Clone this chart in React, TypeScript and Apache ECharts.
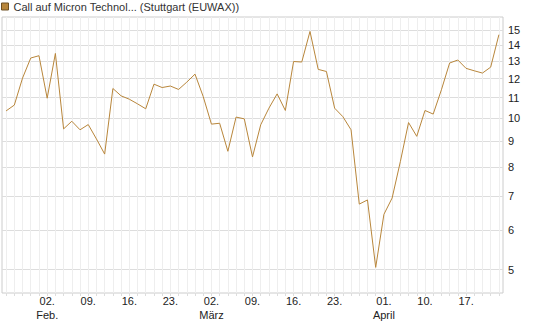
import React, { useEffect, useRef } from "react";
import * as echarts from "echarts";

const seriesName = "Call auf Micron Technol... (Stuttgart (EUWAX))";

const dates = [
  "2026-01-26", "2026-01-27", "2026-01-28", "2026-01-29", "2026-01-30",
  "2026-02-02", "2026-02-03", "2026-02-04", "2026-02-05", "2026-02-06",
  "2026-02-09", "2026-02-10", "2026-02-11", "2026-02-12", "2026-02-13",
  "2026-02-16", "2026-02-17", "2026-02-18", "2026-02-19", "2026-02-20",
  "2026-02-23", "2026-02-24", "2026-02-25", "2026-02-26", "2026-02-27",
  "2026-03-02", "2026-03-03", "2026-03-04", "2026-03-05", "2026-03-06",
  "2026-03-09", "2026-03-10", "2026-03-11", "2026-03-12", "2026-03-13",
  "2026-03-16", "2026-03-17", "2026-03-18", "2026-03-19", "2026-03-20",
  "2026-03-23", "2026-03-24", "2026-03-25", "2026-03-26", "2026-03-27",
  "2026-03-31", "2026-04-01", "2026-04-02", "2026-04-07", "2026-04-08",
  "2026-04-09", "2026-04-10", "2026-04-13", "2026-04-14", "2026-04-15",
  "2026-04-16", "2026-04-17", "2026-04-20", "2026-04-21", "2026-04-22",
  "2026-04-23",
];

const prices = [
  10.35, 10.63, 12.03, 13.19, 13.33,
  10.97, 13.47, 9.53, 9.87, 9.49,
  9.72, 9.10, 8.49, 11.47, 11.09,
  10.92, 10.69, 10.45, 11.70, 11.52,
  11.60, 11.42, 11.81, 12.25, 11.05,
  9.74, 9.78, 8.60, 10.06, 9.98,
  8.38, 9.71, 10.48, 11.19, 10.37,
  12.98, 12.95, 14.90, 12.52, 12.40,
  10.48, 10.08, 9.49, 6.75, 6.88,
  5.05, 6.44, 6.94, 8.20, 9.81,
  9.21, 10.37, 10.20, 11.40, 12.89,
  13.07, 12.58, 12.44, 12.31, 12.65,
  14.68,
];

const xTickLabels: Record<string, string> = {
  "2026-02-02": "02.\nFeb.",
  "2026-02-09": "09.",
  "2026-02-16": "16.",
  "2026-02-23": "23.",
  "2026-03-02": "02.\nMärz",
  "2026-03-09": "09.",
  "2026-03-16": "16.",
  "2026-03-23": "23.",
  "2026-04-01": "01.\nApril",
  "2026-04-10": "10.",
  "2026-04-17": "17.",
};

const yTicks = [5, 6, 7, 8, 9, 10, 11, 12, 13, 14, 15];
const yMin = 4.49;
const yMax = 15.92;

const FONT = 'Arial, "Liberation Sans", sans-serif';
const LINE_COLOR = "#b8863b";

export default function App() {
  const ref = useRef<HTMLDivElement>(null);

  useEffect(() => {
    if (!ref.current) return;
    const chart = echarts.init(ref.current, null, { renderer: "svg" });
    const logTicks = yTicks.map((v) => Math.log(v));
    chart.setOption({
      animation: false,
      backgroundColor: "#ffffff",
      textStyle: { fontFamily: FONT },
      legend: {
        show: true,
        left: 1,
        top: 1,
        padding: 0,
        itemWidth: 7,
        itemHeight: 7,
        icon: "rect",
        selectedMode: false,
        itemStyle: { borderColor: "#6e5024", borderWidth: 1 },
        textStyle: { fontSize: 11, color: "#333", fontFamily: FONT },
        data: [seriesName],
      },
      grid: {
        left: 2,
        right: 42,
        top: 17,
        bottom: 34,
        show: true,
        borderColor: "#cccccc",
        borderWidth: 1,
        backgroundColor: "transparent",
        containLabel: false,
      },
      xAxis: {
        type: "category",
        data: dates,
        boundaryGap: true,
        axisLine: { show: false },
        axisTick: {
          show: true,
          interval: 0,
          alignWithLabel: true,
          length: 3,
          lineStyle: { color: "#dddddd" },
        },
        axisLabel: {
          interval: (_i: number, v: string) => v in xTickLabels,
          formatter: (v: string) => xTickLabels[v] ?? "",
          margin: 1,
          lineHeight: 14,
          color: "#222",
          fontSize: 11,
          fontFamily: FONT,
        },
        splitLine: {
          show: true,
          interval: 0,
          alignWithLabel: true,
          lineStyle: { color: "#eeeeee", width: 1 },
        },
      },
      yAxis: {
        type: "value",
        position: "right",
        min: Math.log(yMin),
        max: Math.log(yMax),
        axisLine: { show: false },
        axisTick: { show: false, customValues: logTicks },
        axisLabel: {
          customValues: logTicks,
          formatter: (v: number) => String(Math.round(Math.exp(v))),
          margin: 5,
          color: "#222",
          fontSize: 11,
          fontFamily: FONT,
        },
        splitLine: { show: true, lineStyle: { color: "#dddddd", width: 1 } },
      },
      series: [
        {
          name: seriesName,
          type: "line",
          data: prices.map((v) => Math.log(v)),
          showSymbol: false,
          symbol: "none",
          lineStyle: { color: LINE_COLOR, width: 1 },
          itemStyle: { color: LINE_COLOR },
        },
      ],
    });
    return () => chart.dispose();
  }, []);

  return (
    <div
      ref={ref}
      style={{ position: "fixed", left: 0, top: 0, width: 545, height: 327 }}
    />
  );
}
